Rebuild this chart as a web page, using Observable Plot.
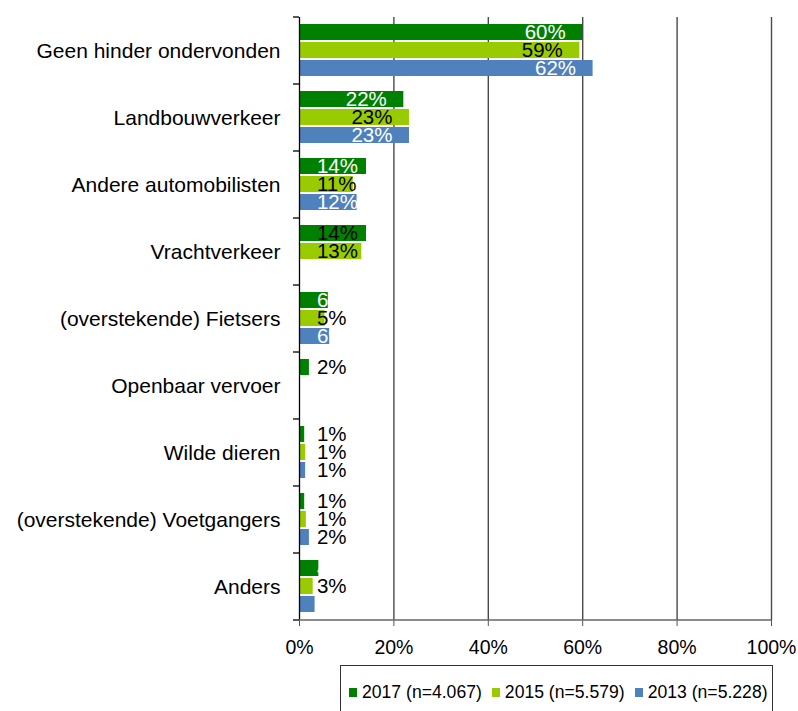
<!DOCTYPE html>
<html>
<head>
<meta charset="utf-8">
<script src="https://cdn.jsdelivr.net/npm/d3@7"></script>
<script src="https://cdn.jsdelivr.net/npm/@observablehq/plot@0.6"></script>
<style>
  body { margin: 0; background: white; font-family: "Liberation Sans", Arial, sans-serif; }
  #legend { margin-left: 340px; margin-top: 5px; width: 431px; height: 60px; border: 1px solid #333; box-sizing: content-box; position: relative; }
  #legend .items { position: absolute; left: 8px; top: 16px; display: flex; align-items: center; font-size: 17.6px; white-space: nowrap; }
  #legend .sw { width: 8px; height: 9px; margin-right: 5px; display: inline-block; }
  #legend .it { display: flex; align-items: center; margin-right: 10px; }
</style>
</head>
<body>
<div id="chart"></div>
<div id="legend"><div class="items"></div></div>
<script>
const categories = [
  "Geen hinder ondervonden",
  "Landbouwverkeer",
  "Andere automobilisten",
  "Vrachtverkeer",
  "(overstekende) Fietsers",
  "Openbaar vervoer",
  "Wilde dieren",
  "(overstekende) Voetgangers",
  "Anders"
];
const series = ["2017", "2015", "2013"];
const seriesLabels = ["2017 (n=4.067)", "2015 (n=5.579)", "2013 (n=5.228)"];
const v2017 = [60.0, 22.1, 14.2, 14.2, 6.1, 2.1, 1.1, 1.1, 4.1];
const v2015 = [59.4, 23.3, 11.4, 13.2, 5.4, null, 1.3, 1.45, 2.9];
const v2013 = [62.2, 23.3, 12.2, null, 6.4, null, 1.3, 2.1, 3.3];
const xTicks = [0, 20, 40, 60, 80, 100];
const colors = ["#008000", "#99CC00", "#4F81BD"];

const rows = [];
categories.forEach((c, i) => {
  [v2017, v2015, v2013].forEach((arr, j) => {
    if (arr[i] != null) rows.push({category: c, series: series[j], value: arr[i]});
  });
});

const isDark = d => d.series === "2015" || Math.round(d.value) <= 2 ||
  (d.series === "2017" && d.category === "Vrachtverkeer");
const labelX = d => Math.max(d.value - 12.3, 3.7);
const labelText = d => Math.round(d.value) + "%";

const plot = Plot.plot({
  width: 798,
  height: 660,
  marginLeft: 299,
  marginRight: 27,
  marginTop: 15,
  marginBottom: 38,
  style: {fontFamily: "'Liberation Sans', Arial, sans-serif", background: "white"},
  x: {domain: [0, 100]},
  y: {domain: series, paddingInner: 0.09, paddingOuter: 0.376, axis: null},
  fy: {domain: categories, padding: 0},
  color: {domain: series, range: colors},
  marks: [
    Plot.ruleX(xTicks.slice(1), {stroke: "#4a4a4a", strokeWidth: 1.4}),
    Plot.barX(rows, {x: "value", y: "series", fy: "category", fill: "series"}),
    Plot.text(rows, {filter: d => isDark(d), x: labelX, y: "series", fy: "category", text: labelText, textAnchor: "start", fill: "black", fontSize: 20.5}),
    Plot.text(rows, {filter: d => !isDark(d), x: labelX, y: "series", fy: "category", text: labelText, textAnchor: "start", fill: "white", fontSize: 20.5}),
    Plot.ruleX([0], {stroke: "black", strokeWidth: 1.3}),
    Plot.axisFy({anchor: "left", tickSize: 0, tickPadding: 19, fontSize: 21, label: null, fill: "black"}),
    Plot.axisX({ticks: xTicks, tickFormat: d => d + "%", tickSize: 6, tickPadding: 14, fontSize: 19.5, label: null, stroke: "#555", fill: "black"})
  ]
});

// Excel-style category boundary ticks and bottom axis line, from the plot's scales
const fy = plot.scale("fy");
const xs = plot.scale("x");
const x0 = xs.apply(0), x100 = xs.apply(100);
const bounds = categories.map(c => fy.apply(c));
const bottom = fy.apply(categories[categories.length - 1]) + fy.bandwidth;
bounds.push(bottom);
const g = d3.select(plot).append("g");
g.selectAll("line.b").data(bounds).join("line")
  .attr("x1", x0 - 6).attr("x2", x0).attr("y1", d => d).attr("y2", d => d)
  .attr("stroke", "black").attr("stroke-width", 1.3);
g.append("line").attr("x1", x0).attr("x2", x100).attr("y1", bottom).attr("y2", bottom)
  .attr("stroke", "#666").attr("stroke-width", 1.4);

document.getElementById("chart").appendChild(plot);

const items = d3.select("#legend .items");
seriesLabels.forEach((s, i) => {
  const it = items.append("div").attr("class", "it");
  it.append("span").attr("class", "sw").style("background", colors[i]);
  it.append("span").text(s);
});
</script>
</body>
</html>
